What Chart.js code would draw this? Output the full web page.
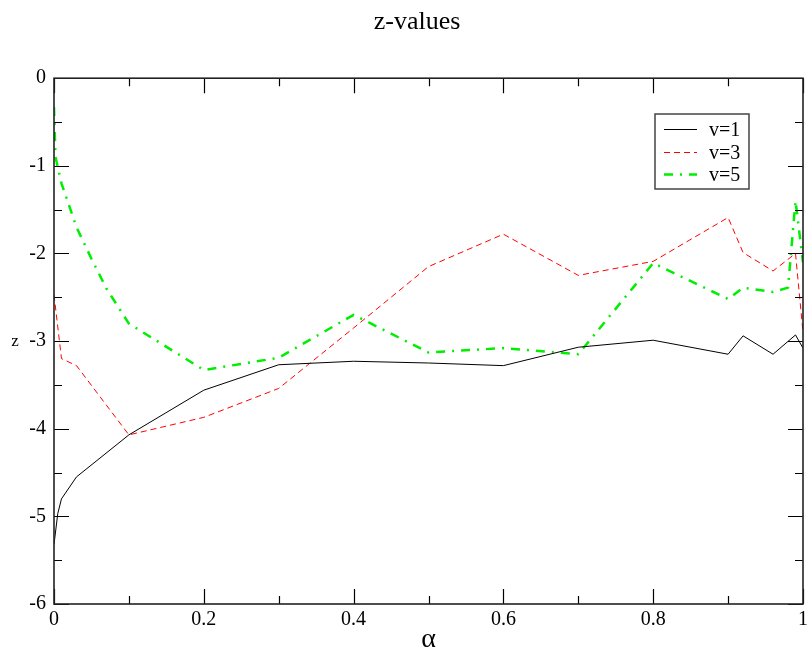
<!DOCTYPE html>
<html>
<head>
<meta charset="utf-8">
<script src="https://cdn.jsdelivr.net/npm/chart.js@4.4.1/dist/chart.umd.min.js"></script>
<style>
  html, body { margin: 0; padding: 0; background: #fff; }
  #wrap { width: 812px; height: 656px; }
</style>
</head>
<body>
<div id="wrap"><canvas id="myChart" width="812" height="656"></canvas></div>
<script>
// values
var alphaV1 = [0, 0.005, 0.01, 0.03, 0.1, 0.2, 0.3, 0.4, 0.5, 0.6, 0.7, 0.8, 0.9, 0.92, 0.96, 0.99, 1];
var zV1 = [-5.32, -4.97, -4.8, -4.55, -4.07, -3.56, -3.27, -3.23, -3.25, -3.28, -3.07, -2.99, -3.15, -2.94, -3.15, -2.93, -3.08];

var alphaV3 = [0, 0.01, 0.03, 0.1, 0.2, 0.3, 0.4, 0.5, 0.6, 0.7, 0.8, 0.9, 0.92, 0.96, 0.99, 1];
var zV3 = [-2.47, -3.2, -3.28, -4.07, -3.87, -3.54, -2.85, -2.15, -1.78, -2.25, -2.09, -1.59, -1.99, -2.2, -2.0, -2.9];

var alphaV5 = [0, 0.002, 0.01, 0.03, 0.05, 0.07, 0.1, 0.2, 0.3, 0.4, 0.5, 0.6, 0.7, 0.8, 0.9, 0.92, 0.96, 0.98, 0.99, 1];
var zV5 = [-0.33, -0.9, -1.2, -1.7, -2.06, -2.4, -2.8, -3.33, -3.19, -2.7, -3.13, -3.08, -3.15, -2.11, -2.52, -2.39, -2.44, -2.39, -1.4, -2.1];

var seriesLabels = ["v=1", "v=3", "v=5"];

var serif = "'Liberation Serif', 'DejaVu Serif', serif";

function pairs(xs, ys) {
    return xs.map(function (x, i) { return { x: x, y: ys[i] }; });
}

// inward ticks on all four sides, the frame, the legend box and the upright "z"
var xmgrPlugin = {
    id: "xmgr",
    afterDatasetsDraw: function (chart) {
        var c = chart.ctx, a = chart.chartArea;
        var xs = chart.scales.x, ys = chart.scales.y;
        c.save();
        c.strokeStyle = "#000";
        c.lineWidth = 1.2;
        c.setLineDash([]);
        c.beginPath();
        var v, px, len;
        for (v = 0; v <= 10; v++) {
            px = Math.round(xs.getPixelForValue(v / 10)) + 0.5;
            len = v % 2 === 0 ? 15 : 8;
            c.moveTo(px, a.bottom); c.lineTo(px, a.bottom - len);
            c.moveTo(px, a.top); c.lineTo(px, a.top + len);
        }
        for (v = 0; v <= 12; v++) {
            px = Math.round(ys.getPixelForValue(-v / 2)) + 0.5;
            len = v % 2 === 0 ? 15 : 8;
            c.moveTo(a.left, px); c.lineTo(a.left + len, px);
            c.moveTo(a.right, px); c.lineTo(a.right - len, px);
        }
        c.stroke();

        c.lineWidth = 1.6;
        c.strokeStyle = "#222";
        c.strokeRect(a.left, a.top, a.right - a.left, a.bottom - a.top);

        // legend
        var lx = 655, ly = 114, lw = 94, lh = 75;
        c.fillStyle = "#fff";
        c.fillRect(lx, ly, lw, lh);
        c.lineWidth = 1.5;
        c.strokeStyle = "#444";
        c.strokeRect(lx, ly, lw, lh);
        c.font = "20px " + serif;
        c.textBaseline = "middle";
        c.textAlign = "left";
        chart.data.datasets.forEach(function (ds, i) {
            var yy = Math.round(ly + 15 + i * 22.5) + 0.5;
            c.beginPath();
            c.strokeStyle = ds.borderColor;
            c.lineWidth = ds.borderWidth;
            c.setLineDash(ds.borderDash || []);
            c.moveTo(lx + 9, yy); c.lineTo(lx + 42, yy);
            c.stroke();
            c.setLineDash([]);
            c.fillStyle = "#000";
            c.fillText(ds.label, lx + 54, yy + 1);
        });

        // y axis title, upright as in the original
        var yt = chart.options.scales.y.title;
        c.font = "17px " + serif;
        c.fillStyle = "#000";
        c.textAlign = "center";
        c.fillText(yt.text, 15, (a.top + a.bottom) / 2);
        c.restore();
    }
};

var ctx = document.getElementById("myChart").getContext("2d");

var myChart = new Chart(ctx, {
    type: "line",
    data: {
        datasets: [
            {
                label: seriesLabels[0],
                data: pairs(alphaV1, zV1),
                borderColor: "#000000",
                borderWidth: 1,
                pointRadius: 0,
                tension: 0
            },
            {
                label: seriesLabels[1],
                data: pairs(alphaV3, zV3),
                borderColor: "#ff0000",
                borderWidth: 1,
                borderDash: [6, 4],
                pointRadius: 0,
                tension: 0
            },
            {
                label: seriesLabels[2],
                data: pairs(alphaV5, zV5),
                borderColor: "#00ee00",
                borderWidth: 2.5,
                borderDash: [9, 7, 2, 7],
                pointRadius: 0,
                tension: 0
            }
        ]
    },
    options: {
        responsive: false,
        animation: false,
        layout: { padding: { left: 22, right: 0, top: 0, bottom: 0 } },
        plugins: {
            legend: { display: false },
            tooltip: { enabled: false },
            title: {
                display: true,
                text: "z-values",
                color: "#000",
                font: { family: serif, size: 26, weight: "normal" },
                padding: { top: 7, bottom: 40 }
            }
        },
        scales: {
            x: {
                type: "linear",
                min: 0,
                max: 1,
                grid: { display: false, drawTicks: false },
                border: { display: false },
                ticks: {
                    stepSize: 0.2,
                    padding: 4,
                    color: "#000",
                    maxRotation: 0,
                    font: { family: serif, size: 20 },
                    callback: function (v) { return String(Number(v.toFixed(1))); }
                },
                title: {
                    display: true,
                    text: "α",
                    color: "#000",
                    font: { family: serif, size: 28, lineHeight: 1 },
                    padding: { top: 0, bottom: 2 }
                },
                afterFit: function (s) { s.height = 52; }
            },
            y: {
                type: "linear",
                min: -6,
                max: 0,
                grid: { display: false, drawTicks: false },
                border: { display: false },
                ticks: {
                    stepSize: 1,
                    padding: 8,
                    color: "#000",
                    font: { family: serif, size: 20 }
                },
                title: { display: false, text: "z" },
                afterFit: function (s) { s.width = 32; }
            }
        }
    },
    plugins: [xmgrPlugin]
});
</script>
</body>
</html>
